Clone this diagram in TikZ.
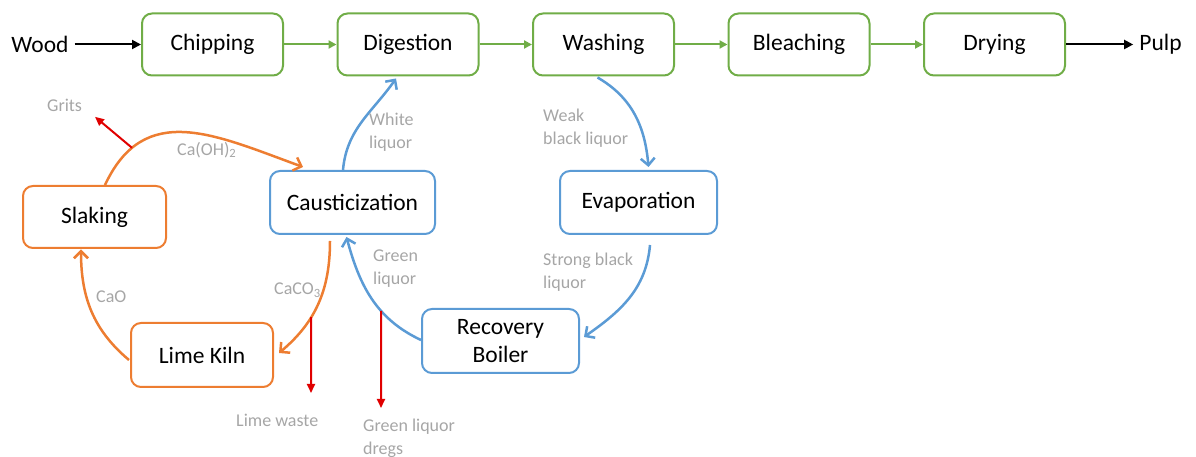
\documentclass[tikz,border=0pt]{standalone}
\usepackage{fontspec}
\setmainfont{Carlito}
\usetikzlibrary{arrows.meta,calc,intersections}
\definecolor{cgreen}{HTML}{70AD47}
\definecolor{cblue}{HTML}{5B9BD5}
\definecolor{corange}{HTML}{ED7D31}
\definecolor{cgray}{HTML}{A6A6A6}
\definecolor{cred}{HTML}{E00000}
\begin{document}
\begin{tikzpicture}[x=1pt,y=1pt,
  box/.style={draw,line width=2pt,rounded corners=10pt,minimum height=62pt,inner sep=0pt,font=\fontsize{23.5}{28}\selectfont,align=center,fill=white},
  gbox/.style={box,draw=cgreen,minimum width=141pt},
  bbox/.style={box,draw=cblue},
  obox/.style={box,draw=corange},
  lbl/.style={text=cgray,font=\fontsize{18}{23}\selectfont,align=left,anchor=west,inner sep=0pt},
  plain/.style={font=\fontsize{23.5}{28}\selectfont,inner sep=6pt},
  garrow/.style={draw=cgreen,line width=2pt,-{Triangle[length=8pt,width=8pt]}},
  karrow/.style={draw=black,line width=2pt,-{Triangle[length=9pt,width=9pt]}},
  barrow/.style={draw=cblue,line width=2.5pt,-{Straight Barb[length=7pt,width=14pt]}},
  oarrow/.style={draw=corange,line width=2.5pt,-{Straight Barb[length=7pt,width=14pt]}},
  rarrow/.style={draw=cred,line width=2pt,-{Triangle[length=9pt,width=8pt]}},
]
\useasboundingbox (0,0) rectangle (1196,457);

% top row
\node[plain] (wood) at (40,412.5) {Wood};
\node[gbox] (chip) at (212.5,412.5) {Chipping};
\node[gbox] (dig) at (408,412.5) {Digestion};
\node[gbox] (wash) at (603.5,412.5) {Washing};
\node[gbox] (bleach) at (799,412.5) {Bleaching};
\node[gbox] (dry) at (994.5,412.5) {Drying};
\node[plain] (pulp) at (1160.5,412.5) {Pulp};

\draw[karrow] (wood) -- (chip);
\draw[garrow] (chip) -- (dig);
\draw[garrow] (dig) -- (wash);
\draw[garrow] (wash) -- (bleach);
\draw[garrow] (bleach) -- (dry);
\draw[karrow] (dry) -- (pulp);

% lower boxes
\node[obox,minimum width=143pt] (slak) at (94.5,240) {Slaking};
\node[bbox,minimum width=165pt,minimum height=63pt] (caus) at (352.5,254.5) {Causticization};
\node[bbox,minimum width=157pt,minimum height=63pt] (evap) at (638.5,254.5) {Evaporation};
\node[bbox,minimum width=157pt,minimum height=64pt] (rec) at (500.5,116) {Recovery\\Boiler};
\node[obox,minimum width=142pt,minimum height=64pt] (lk) at (202,102) {Lime Kiln};

% blue loop
\draw[barrow] ($(caus.north)+(-9.5,0)$) to[out=85,in=-125] ($(dig.south)+(-12,-2)$);
\draw[barrow] ($(wash.south)+(-6,-1)$) to[out=-30,in=95] ($(evap.north)+(10,3)$);
\draw[barrow] ($(evap.south)+(11.5,-10)$) to[out=-95,in=35] ($(rec.east)+(4,4)$);
\draw[barrow,name path=gl] ($(rec.west)+(0,1)$) to[out=155,in=-75] ($(caus.south)+(-6,-2)$);

% orange loop
\draw[oarrow,name path=cc] ($(caus.south)+(-22.5,-6)$) to[out=-90,in=40] ($(lk.east)+(5,2)$);
\draw[oarrow] ($(lk.west)+(-1,-5)$) to[out=140,in=-90] ($(slak.south)+(-13.5,-0.5)$);
\draw[oarrow,name path=oh] ($(slak.north)+(10.5,0)$) to[out=65,in=160,looseness=1.2] ($(caus.north)+(-49.5,3)$);

% red waste arrows
\path[name path=vg] (132,250) -- (132,350);
\path[name intersections={of=oh and vg,by=gs}];
\coordinate (ge) at ($(gs)+(-37,31)$);
\draw[rarrow] (gs) -- (ge);

\path[name path=vl] (311,100) -- (311,220);
\path[name intersections={of=cc and vl,by=lw}];
\coordinate (lwe) at (311,64);
\draw[rarrow] (lw) -- (lwe);

\path[name path=vd] (381,100) -- (381,220);
\path[name intersections={of=gl and vd,by=dg}];
\coordinate (dge) at (381,49);
\draw[rarrow] (dg) -- (dge);

% labels
\node[lbl] (lgrits) at (47,352) {Grits};
\node[lbl] (lcaoh) at (177,307) {Ca(OH)\textsubscript{2}};
\node[lbl] (lwhite) at (369,324.5) {White\\liquor};
\node[lbl] (lweak) at (543,329) {Weak\\black liquor};
\node[lbl] (lstrong) at (543,185) {Strong black\\liquor};
\node[lbl] (lgreen) at (373,188) {Green\\liquor};
\node[lbl] (lcaco) at (274,167) {CaCO\textsubscript{3}};
\node[lbl] (lcao) at (96,160) {CaO};
\node[lbl] (llime) at (236,37) {Lime waste};
\node[lbl] (ldregs) at (363,19) {Green liquor\\dregs};
\end{tikzpicture}
\end{document}
